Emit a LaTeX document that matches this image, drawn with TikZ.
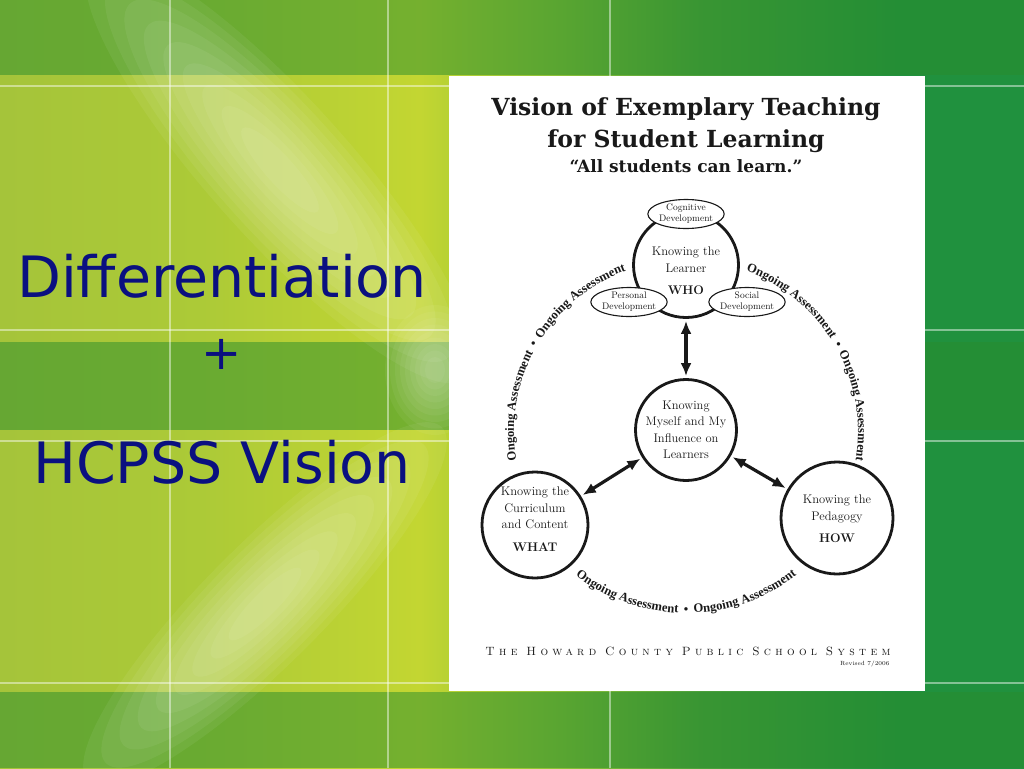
\documentclass[tikz,border=0pt]{standalone}
\usepackage{fontspec}
\usetikzlibrary{shapes.geometric,arrows.meta,decorations.text}
\newfontfamily\slidefont{DejaVu Sans}
\newfontfamily\headfont{DejaVu Serif}
\newfontfamily\arcfont{Liberation Serif}
\newfontfamily\footfont{lmromancaps10-regular}[Extension=.otf,LetterSpace=36]
\newcommand\ongoingfont{\arcfont\bfseries\fontsize{12.6}{13}\selectfont}

\definecolor{navytext}{RGB}{10,16,128}
\definecolor{bgA}{RGB}{165,196,58}
\definecolor{bgB}{RGB}{172,202,55}
\definecolor{bgC}{RGB}{195,214,50}
\definecolor{bgD}{RGB}{140,192,55}
\definecolor{bgE}{RGB}{75,160,58}
\definecolor{bgF}{RGB}{32,145,62}
\definecolor{bandgreen}{RGB}{40,140,45}
\definecolor{inkgray}{RGB}{25,25,25}

\pgfdeclarehorizontalshading{slidebg}{100bp}{color(0bp)=(bgA); color(25bp)=(bgA); color(34.8bp)=(bgB); color(45.5bp)=(bgC); color(52.3bp)=(bgD); color(59.2bp)=(bgE); color(69bp)=(bgF); color(100bp)=(bgF)}

\tikzset{
  bigcircle/.style={circle,draw=inkgray,line width=2.8pt,fill=white,inner sep=0pt},
  circletext/.style={align=center,text=inkgray,inner sep=0pt,font=\fontsize{12.5}{16.5}\selectfont},
  devellipse/.style={ellipse,draw=inkgray,line width=1.1pt,fill=white,inner sep=0pt,minimum width=67pt,minimum height=29pt,align=center,text=inkgray,font=\fontsize{9.5}{11}\selectfont},
  twoway/.style={{Latex[length=13pt,width=11pt]}-{Latex[length=13pt,width=11pt]},line width=3.2pt,draw=inkgray,shorten <=2pt,shorten >=2pt},
  ongoing/.style={decorate,decoration={text along path,text align=center,text color=inkgray,text={|\ongoingfont|Ongoing Assessment {\hspace{2.5pt}\textbullet\hspace{2.5pt}} Ongoing Assessment}}},
  slidetext/.style={text=navytext,font=\slidefont\fontsize{57}{68}\selectfont,inner sep=0pt},
  titletext/.style={anchor=base,text=inkgray,font=\headfont\bfseries\fontsize{23.5}{27}\selectfont},
  gridline/.style={white,opacity=.45,line width=1.5pt},
}

\begin{document}
\begin{tikzpicture}[x=1pt,y=-1pt]
\useasboundingbox (0,0) rectangle (1024,768);
\shade[shading=slidebg] (0,0) rectangle (1024,768);
\foreach \ya/\yb in {0/75,342/430,692/768}
  \fill[bandgreen,opacity=.5] (0,\ya) rectangle (1024,\yb);
\begin{scope}
  \clip (0,0) rectangle (1024,768);
  \foreach \s in {1,.9,.8,.7,.6,.5,.4,.3,.2}{
    \fill[white,opacity=.06,rotate around={-48:(280,170)}] (280,170) ellipse [x radius=\s*280, y radius=\s*70];
    \fill[white,opacity=.06,rotate around={45:(265,604)}] (265,604) ellipse [x radius=\s*250, y radius=\s*60];
    \fill[white,opacity=.05] (435,370) ellipse [x radius=\s*50, y radius=\s*65];
  }
\end{scope}
\foreach \y in {86,330,441,683}
  \draw[gridline] (0,\y) -- (1024,\y);
\foreach \x in {170,388,610}
  \draw[gridline] (\x,0) -- (\x,768);

\node[slidetext,anchor=base] (diff) at (222,297) {Differentiation};
\node[slidetext,anchor=base,font=\slidefont\fontsize{48}{56}\selectfont] (plus) at (222,369) {+};
\node[slidetext,anchor=base] (vision) at (222,483) {HCPSS Vision};

\fill[white] (449,76) rectangle (925,691);

\node[titletext] (title) at (686,115) {Vision of Exemplary Teaching};
\node[titletext] (title2) at (686,147.5) {for Student Learning};
\node[titletext,font=\headfont\bfseries\fontsize{17}{20}\selectfont] (motto) at (686,172) {“All students can learn.”};

\node[bigcircle,minimum size=105pt] (learner) at (686,265) {};
\node[bigcircle,minimum size=101pt] (self) at (686,430) {};
\node[bigcircle,minimum size=106pt] (what) at (535,525) {};
\node[bigcircle,minimum size=112pt] (how) at (837,518) {};

\node[circletext] (learnertext) at (686,271) {Knowing the\\Learner\\[6pt]\textbf{WHO}};
\node[circletext] (selftext) at (686,430) {Knowing\\Myself and My\\Influence on\\Learners};
\node[circletext] (whattext) at (535,519) {Knowing the\\Curriculum\\and Content\\[6pt]\textbf{WHAT}};
\node[circletext] (howtext) at (837,519) {Knowing the\\Pedagogy\\[6pt]\textbf{HOW}};

\node[devellipse] (cog) at (686,214) {Cognitive\\Development};
\node[devellipse] (pers) at (629,302) {Personal\\Development};
\node[devellipse,minimum width=70pt] (soc) at (747,302) {Social\\Development};

\foreach \a/\b in {learner/self,self/what,self/how}
  \draw[twoway] (\a) -- (\b);

\coordinate (hub) at (686,432);
\path[ongoing] ([shift={(165:172)}]hub) arc[start angle=165,end angle=255,radius=172];
\path[ongoing] ([shift={(-75:172)}]hub) arc[start angle=-75,end angle=15,radius=172];
\path[ongoing] ([shift={(135:181)}]hub) arc[start angle=135,end angle=45,radius=181];

\node[anchor=base,text=inkgray,font=\footfont\fontsize{12}{14}\selectfont] (hcpss) at (688,655) {The Howard County Public School System};
\node[anchor=base east,text=inkgray,font=\fontsize{6}{7}\selectfont] (rev) at (893,665) {Revised 7/2006};
\end{tikzpicture}
\end{document}
